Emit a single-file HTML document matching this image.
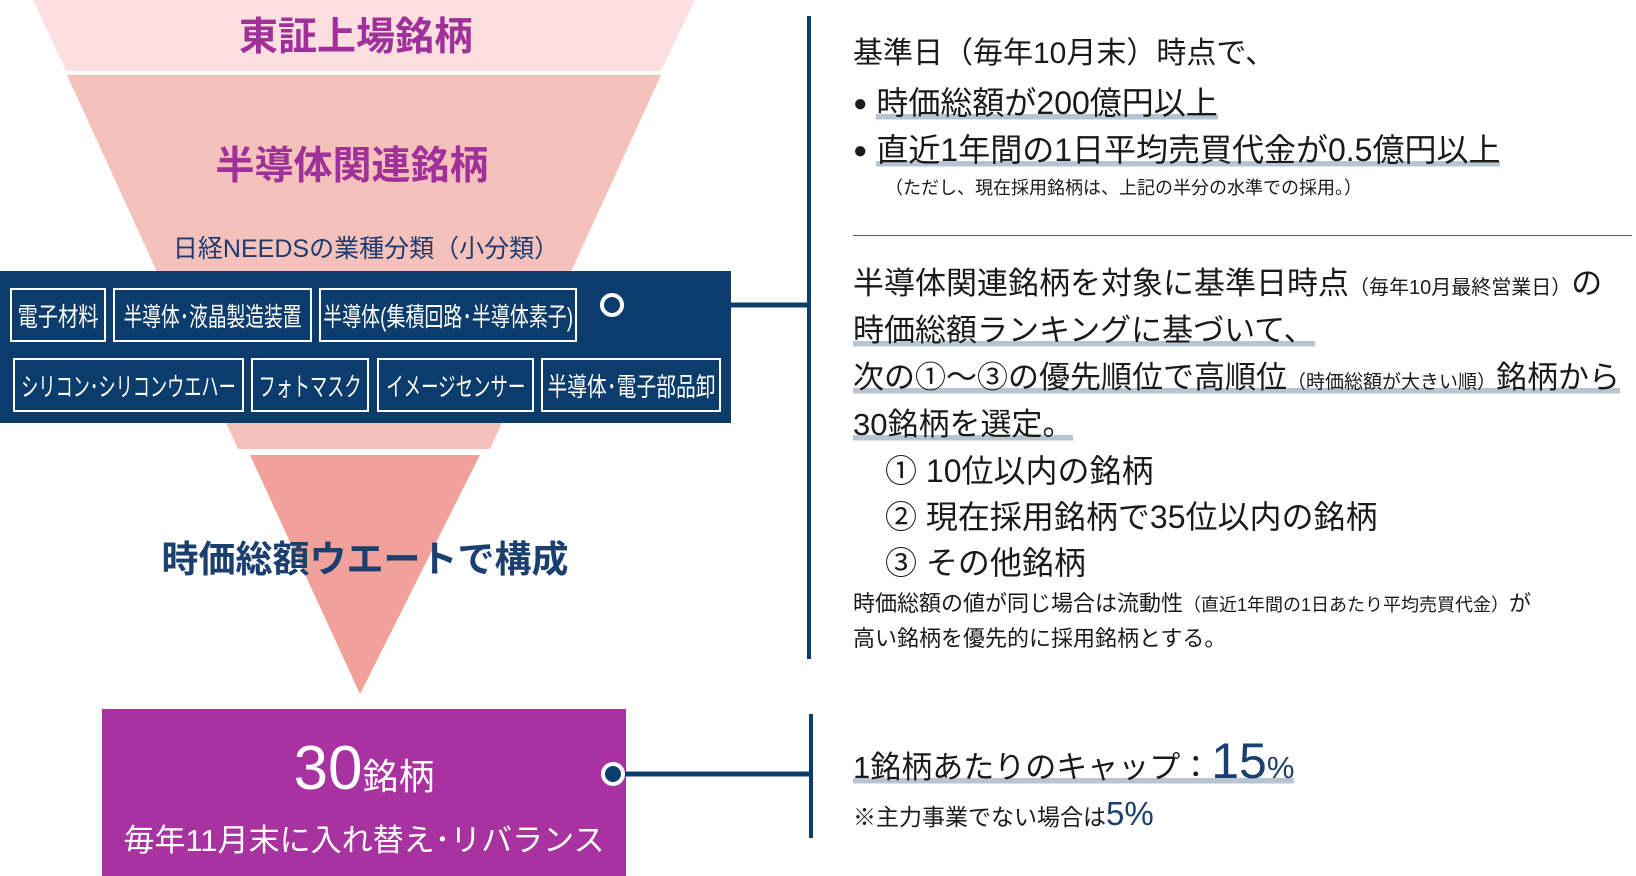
<!DOCTYPE html>
<html><head><meta charset="utf-8"><style>
body{margin:0;width:1636px;height:876px;background:#fff;position:relative;overflow:hidden;font-family:"Liberation Sans","Noto Sans CJK JP",sans-serif;}
.a{position:absolute;white-space:nowrap;line-height:1;}
.c{transform:translateX(-50%);}
.box{position:absolute;border:2px solid #fff;box-sizing:border-box;color:#fff;font-size:26px;display:flex;align-items:center;justify-content:center;white-space:nowrap;}
.box span{display:inline-block;}
.u{background:linear-gradient(transparent 80%,#b7c4d2 80%,#b7c4d2 96%,transparent 96%);}
.sm{font-size:20px;}
.t{color:#1a1a1a;}
</style></head><body>
<svg class="a" style="left:0;top:0" width="1636" height="876">
<polygon points="33,0 695,0 661,71 66,71" fill="#fbe0df"/>
<polygon points="67,75 661,75 490,449 238,449" fill="#f5c1bb"/>
<polygon points="250,455 480,455 360,694" fill="#f2a19a"/>
<rect x="0" y="271" width="731" height="152" fill="#0c3c6c"/>
<line x1="612" y1="305" x2="809" y2="305" stroke="#0c3c6c" stroke-width="5"/>
<line x1="809" y1="16" x2="809" y2="659" stroke="#0c3c6c" stroke-width="4"/>
<rect x="102" y="709" width="524" height="167" fill="#a832a0"/>
<line x1="613" y1="774" x2="811" y2="774" stroke="#0c3c6c" stroke-width="5"/>
<line x1="811" y1="714" x2="811" y2="838" stroke="#0c3c6c" stroke-width="4"/>
<circle cx="612" cy="305" r="10" fill="#0c3c6c" stroke="#fff" stroke-width="4"/>
<circle cx="613" cy="774" r="10" fill="#0c3c6c" stroke="#fff" stroke-width="4"/>
</svg>
<div class="a c" style="left:356px;top:18px;font-size:39px;font-weight:bold;color:#a0309a">東証上場銘柄</div>
<div class="a c" style="left:352px;top:147px;font-size:39px;font-weight:bold;color:#a0309a">半導体関連銘柄</div>
<div class="a c" style="left:366px;top:237px;font-size:25px;color:#1e3a6e">日経NEEDSの業種分類（小分類）</div>
<div class="box" style="left:10px;top:288px;width:96px;height:54px"><span style="transform:scaleX(0.78)">電子材料</span></div>
<div class="box" style="left:113px;top:288px;width:199px;height:54px"><span style="transform:scaleX(0.72)">半導体･液晶製造装置</span></div>
<div class="box" style="left:319px;top:288px;width:258px;height:54px"><span style="transform:scaleX(0.73)">半導体(集積回路･半導体素子)</span></div>
<div class="box" style="left:13px;top:358px;width:231px;height:54px"><span style="transform:scaleX(0.66)">シリコン･シリコンウエハー</span></div>
<div class="box" style="left:251px;top:358px;width:118px;height:54px"><span style="transform:scaleX(0.66)">フォトマスク</span></div>
<div class="box" style="left:377px;top:358px;width:157px;height:54px"><span style="transform:scaleX(0.67)">イメージセンサー</span></div>
<div class="box" style="left:541px;top:358px;width:180px;height:54px"><span style="transform:scaleX(0.76)">半導体･電子部品卸</span></div>
<div class="a c" style="left:365px;top:541px;font-size:37px;font-weight:bold;color:#1b3f6e">時価総額ウエートで構成</div>
<div class="a c" style="left:364px;top:738px;color:#fff;font-size:62px">30<span style="font-size:36px">銘柄</span></div>
<div class="a c" style="left:364px;top:825px;color:#fff;font-size:31px">毎年11月末に入れ替え･リバランス</div>

<div class="a t" style="left:853px;top:39px;font-size:30px">基準日（毎年10月末）時点で、</div>
<div class="a t" style="left:853px;top:87px;font-size:32px"><span style="font-size:24px;position:relative;top:-3px">●</span>&nbsp;<span class="u">時価総額が200億円以上</span></div>
<div class="a t" style="left:853px;top:134px;font-size:32px"><span style="font-size:24px;position:relative;top:-3px">●</span>&nbsp;<span class="u">直近1年間の1日平均売買代金が0.5億円以上</span></div>
<div class="a t" style="left:885px;top:179px;font-size:18px">（ただし、現在採用銘柄は、上記の半分の水準での採用。）</div>
<div class="a" style="left:853px;top:235px;width:779px;height:1px;background:#555"></div>
<div class="a t" style="left:853px;top:268px;font-size:31px">半導体関連銘柄を対象に基準日時点<span class="sm">（毎年10月最終営業日）</span>の</div>
<div class="a t" style="left:853px;top:315px;font-size:31px"><span class="u">時価総額ランキングに基づいて、</span></div>
<div class="a t" style="left:853px;top:362px;font-size:31px"><span class="u">次の①～③の優先順位で高順位<span style="font-size:19px">（時価総額が大きい順）</span>銘柄から</span></div>
<div class="a t" style="left:853px;top:409px;font-size:31px"><span class="u">30銘柄を選定。</span></div>
<div class="a t" style="left:885px;top:455px;font-size:32px">① 10位以内の銘柄</div>
<div class="a t" style="left:885px;top:501px;font-size:32px">② 現在採用銘柄で35位以内の銘柄</div>
<div class="a t" style="left:885px;top:547px;font-size:32px">③ その他銘柄</div>
<div class="a t" style="left:853px;top:593px;font-size:22px">時価総額の値が同じ場合は流動性<span style="font-size:18px">（直近1年間の1日あたり平均売買代金）</span>が</div>
<div class="a t" style="left:853px;top:628px;font-size:22px">高い銘柄を優先的に採用銘柄とする。</div>
<div class="a t" style="left:853px;top:736px;font-size:31px"><span class="u">1銘柄あたりのキャップ：<span style="font-size:50px;color:#1b3f6e">15</span><span style="color:#1b3f6e">%</span></span></div>
<div class="a t" style="left:853px;top:797px;font-size:23px">※主力事業でない場合は<span style="font-size:33px;color:#1b3f6e">5%</span></div>
</body></html>
